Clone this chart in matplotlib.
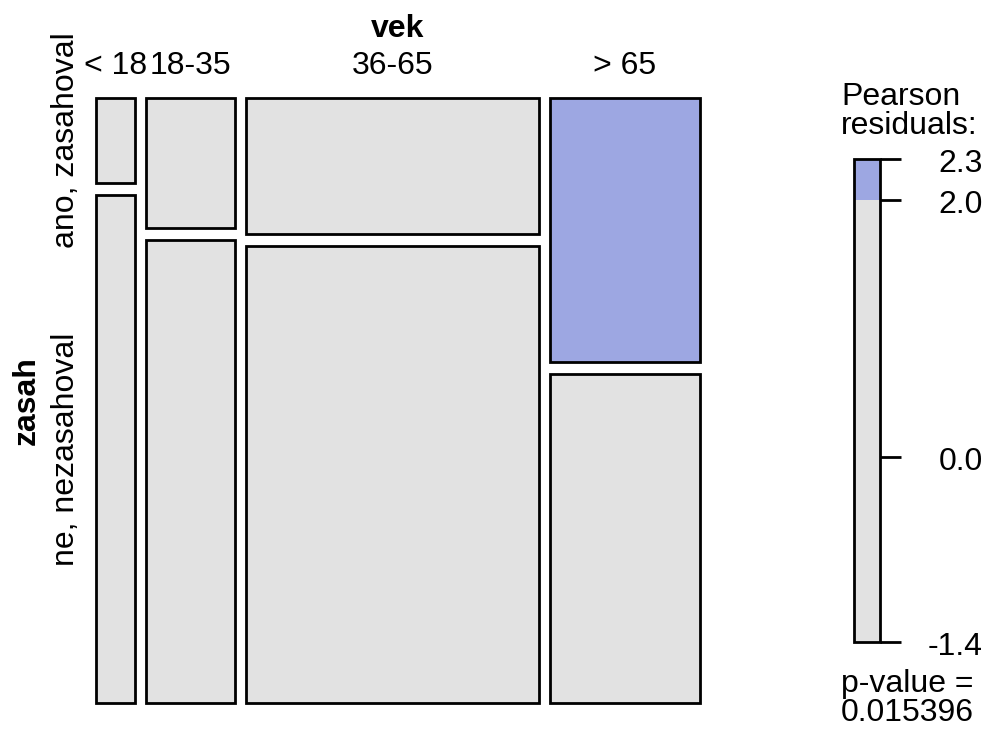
import numpy as np
import matplotlib
matplotlib.use("Agg")
from matplotlib import pyplot as plt
from matplotlib.patches import Rectangle

plt.rcParams['font.family'] = ['Liberation Sans', 'DejaVu Sans']

# data: contingency table vek x zasah
vek_levels = ["< 18", "18-35", "36-65", "> 65"]
zasah_levels = ["ano, zasahoval", "ne, nezasahoval"]
counts = np.array([[2, 12],
                   [7, 25],
                   [24, 81],
                   [24, 30]])
p_value = 0.015396

# Pearson residuals
N = counts.sum()
expected = np.outer(counts.sum(axis=1), counts.sum(axis=0)) / N
resid = (counts - expected) / np.sqrt(expected)
rmin, rmax = resid.min(), resid.max()

gray = "#E2E2E2"
blue = "#9DA7E2"
blue_dark = "#4A6FE3"
red = "#E2A3A8"
red_dark = "#D33F6A"

def shade(r):
    if r > 4: return blue_dark
    if r > 2: return blue
    if r < -4: return red_dark
    if r < -2: return red
    return gray

### figure in pixel coordinates ###
W, H = 987, 729
fig = plt.figure(figsize=(W / 100, H / 100), dpi=100)
ax = fig.add_axes([0, 0, 1, 1])
ax.set_xlim(0, W)
ax.set_ylim(H, 0)
ax.axis("off")

fs = 23
lw = 2.0

# mosaic area
x0, x1 = 96, 700
y0, y1 = 98, 703
gap_x, gap_y = 11, 12

col_tot = counts.sum(axis=1)
avail_w = (x1 - x0) - gap_x * (len(vek_levels) - 1)
avail_h = (y1 - y0) - gap_y * (len(zasah_levels) - 1)

x = x0
for i, lab in enumerate(vek_levels):
    w = avail_w * col_tot[i] / N
    y = y0
    for j in range(len(zasah_levels)):
        h = avail_h * counts[i, j] / col_tot[i]
        ax.add_patch(Rectangle((x, y), w, h, facecolor=shade(resid[i, j]),
                               edgecolor="black", lw=lw))
        if i == 0:
            # row label centered on first column's tile
            ax.text(74, y + h / 2, zasah_levels[j], rotation=90, rotation_mode="anchor",
                    ha="center", va="baseline", fontsize=fs)
        y += h + gap_y
    ax.text(x + w / 2, 74, lab, ha="center", va="baseline", fontsize=fs)
    x += w + gap_x

ax.text((x0 + x1) / 2, 37, "vek", ha="center", va="baseline", fontsize=fs, fontweight="bold")
ax.text(35, (y0 + y1) / 2, "zasah", rotation=90, rotation_mode="anchor",
        ha="center", va="baseline", fontsize=fs, fontweight="bold")

### residual legend ###
bx0, bx1 = 854, 880
by_top, by_bot = 159, 642
def ypos(v):
    return by_top + (rmax - v) / (rmax - rmin) * (by_bot - by_top)

breaks = [rmin] + [b for b in (-4, -2, 0, 2, 4) if rmin < b < rmax] + [rmax]
for lo, hi in zip(breaks[:-1], breaks[1:]):
    ax.add_patch(Rectangle((bx0, ypos(hi)), bx1 - bx0, ypos(lo) - ypos(hi),
                           facecolor=shade((lo + hi) / 2), edgecolor="none"))
ax.add_patch(Rectangle((bx0, by_top), bx1 - bx0, by_bot - by_top,
                       facecolor="none", edgecolor="black", lw=lw))

tick_vals = [rmax] + [b for b in (4, 2, 0, -2, -4) if rmin < b < rmax] + [rmin]
for v in tick_vals:
    ax.plot([bx1, 901], [ypos(v), ypos(v)], color="black", lw=lw, solid_capstyle="butt")
    ax.text(983, ypos(v) + 5, f"{v:.1f}", ha="right", va="center", fontsize=fs)

ax.text(841, 105, "Pearson", ha="left", va="baseline", fontsize=fs)
ax.text(841, 134, "residuals:", ha="left", va="baseline", fontsize=fs)
ax.text(841, 692, "p-value =", ha="left", va="baseline", fontsize=fs)
ax.text(841, 721, f"{p_value:.6f}", ha="left", va="baseline", fontsize=fs)

fig.savefig("out.png", dpi=100)
